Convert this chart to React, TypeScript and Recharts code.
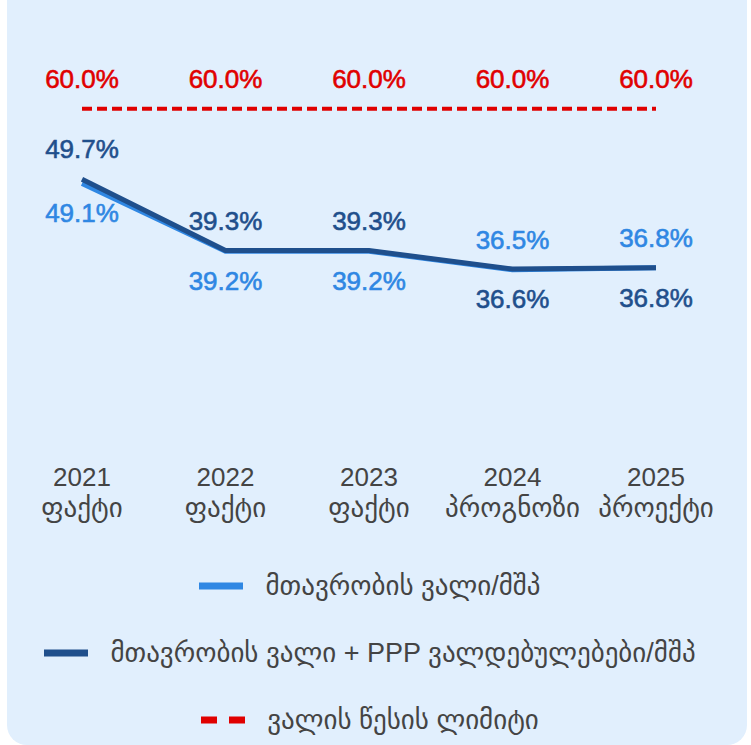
import { LabelList, Legend, Line, LineChart, XAxis, YAxis } from "recharts";

const years = ["2021", "2022", "2023", "2024", "2025"];
const kinds = ["ფაქტი", "ფაქტი", "ფაქტი", "პროგნოზი", "პროექტი"];
const govDebt = [49.1, 39.2, 39.2, 36.5, 36.8];
const govDebtPpp = [49.7, 39.3, 39.3, 36.6, 36.8];
const debtLimit = [60, 60, 60, 60, 60];

const LIGHT = "#2f87e3";
const DARK = "#1f4f8c";
const RED = "#e00000";
const FONT = "'Liberation Sans', Arial, 'DejaVu Sans', sans-serif";

const rows = years.map((y, i) => ({
  year: y,
  kind: kinds[i],
  gov: govDebt[i],
  govPpp: govDebtPpp[i],
  limit: debtLimit[i],
}));

const legendItems = [
  { label: "მთავრობის ვალი/მშპ", color: LIGHT, dashed: false },
  { label: "მთავრობის ვალი + PPP ვალდებულებები/მშპ", color: DARK, dashed: false },
  { label: "ვალის წესის ლიმიტი", color: RED, dashed: true },
];

// label above or below the point, per index
function valueLabel(color: string, above: (i: number) => boolean) {
  return (props: any) => {
    const { x, y, value, index } = props;
    const dy = above(index) ? -30 : 30;
    return (
      <text
        x={x}
        y={y + dy}
        textAnchor="middle"
        dominantBaseline="central"
        fill={color}
        stroke={color}
        strokeWidth={0.6}
        fontSize={26}
        fontFamily={FONT}
      >
        {Number(value).toFixed(1)}%
      </text>
    );
  };
}

function YearTick(props: any) {
  const { x, y, index } = props;
  return (
    <g>
      <text x={x} y={y + 60} textAnchor="middle" dominantBaseline="central" fill="#444" fontSize={26} fontFamily={FONT}>
        {years[index]}
      </text>
      <text x={x} y={y + 91} textAnchor="middle" dominantBaseline="central" fill="#444" fontSize={27} fontFamily={FONT}>
        {kinds[index]}
      </text>
    </g>
  );
}

function StackedLegend() {
  return (
    <div style={{ fontFamily: FONT }}>
      {legendItems.map((it) => (
        <div
          key={it.label}
          style={{
            height: 67,
            display: "flex",
            alignItems: "center",
            justifyContent: "center",
            color: "#444",
            fontSize: 27,
          }}
        >
          <svg width={44} height={8} style={{ marginRight: 22 }}>
            <line
              x1={0}
              x2={44}
              y1={4}
              y2={4}
              stroke={it.color}
              strokeWidth={7}
              strokeDasharray={it.dashed ? "16 12" : undefined}
            />
          </svg>
          <span>{it.label}</span>
        </div>
      ))}
    </div>
  );
}

export default function App() {
  return (
    <div
      style={{
        position: "absolute",
        left: 7,
        top: -20,
        width: 740,
        height: 765,
        background: "#e1effd",
        borderRadius: 20,
      }}
    >
      <LineChart
        width={740}
        height={765}
        data={rows}
        margin={{ top: 94.5, right: 91, bottom: 228, left: 75 }}
      >
        <XAxis
          dataKey="year"
          axisLine={false}
          tickLine={false}
          tickSize={0}
          tickMargin={0}
          height={100}
          interval={0}
          tick={<YearTick />}
        />
        <YAxis hide domain={[15, 65]} />
        <Legend
          layout="horizontal"
          verticalAlign="middle"
          align="center"
          wrapperStyle={{ top: 572, left: 0, width: 726 }}
          content={<StackedLegend />}
        />
        <Line
          dataKey="gov"
          stroke={LIGHT}
          strokeWidth={5}
          dot={false}
          isAnimationActive={false}
        >
          <LabelList dataKey="gov" content={valueLabel(LIGHT, (i) => i >= 3)} />
        </Line>
        <Line
          dataKey="govPpp"
          stroke={DARK}
          strokeWidth={5}
          dot={false}
          isAnimationActive={false}
        >
          <LabelList dataKey="govPpp" content={valueLabel(DARK, (i) => i < 3)} />
        </Line>
        <Line
          dataKey="limit"
          stroke={RED}
          strokeWidth={4}
          strokeDasharray="10 5"
          dot={false}
          isAnimationActive={false}
        >
          <LabelList dataKey="limit" content={valueLabel(RED, () => true)} />
        </Line>
      </LineChart>
    </div>
  );
}
